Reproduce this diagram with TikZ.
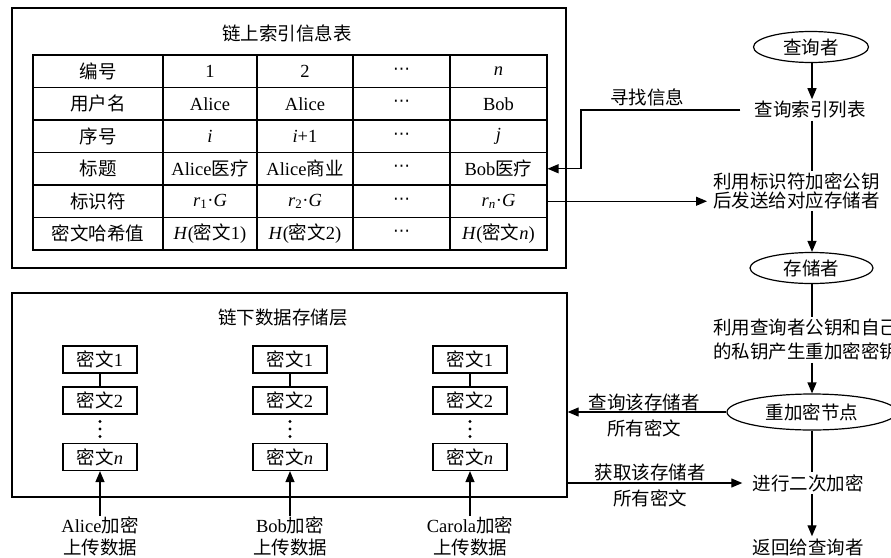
\documentclass[tikz,border=0pt]{standalone}
\usepackage{fontspec}
\setmainfont{Liberation Serif}
\newfontfamily\cjk{Noto Sans CJK SC}
\newfontfamily\dvs{DejaVu Sans}
\usetikzlibrary{shapes.geometric,arrows.meta}
\newcommand\zh[1]{{\cjk #1}}
\tikzset{
  base/.style={font=\fontsize{18.5}{22}\selectfont, inner sep=2pt, align=center},
  cell/.style={base, draw, line width=1.1pt, minimum height=32.5pt, inner sep=0pt},
  frame/.style={draw, line width=1.3pt, inner sep=0pt},
  oval/.style={base, ellipse, draw, line width=1.2pt, inner sep=0pt},
  sbox/.style={base, draw, line width=1.2pt, minimum width=74pt, minimum height=27pt, inner sep=0pt},
  ln/.style={line width=1.2pt},
  arr/.style={ln, -{Triangle[length=11pt,width=9pt]}},
  dot/.style={fill=black},
}
\begin{document}
\begin{tikzpicture}[x=1pt,y=-1pt]
\useasboundingbox (0,0) rectangle (891,557);
\clip (0,0) rectangle (891,557);
% frames
\node[frame, minimum width=554pt, minimum height=260pt] (tb) at (289,138) {};
\node[base] (tt) at (287,33) {\zh{链上索引信息表}};
\node[frame, minimum width=555pt, minimum height=204pt] (bb) at (289.5,395) {};
\node[base] (bt) at (283,318) {\zh{链下数据存储层}};
% table
\foreach \r/\y/\ta/\tb/\tc/\te in {
 1/71.25/{\zh{编号}}/{1}/{2}/{\textit{n}},
 2/103.75/{\zh{用户名}}/{Alice}/{Alice}/{Bob},
 3/136.25/{\zh{序号}}/{\textit{i}}/{\textit{i}+1}/{\textit{j}},
 4/168.75/{\zh{标题}}/{Alice\zh{医疗}}/{Alice\zh{商业}}/{Bob\zh{医疗}},
 5/201.25/{\zh{标识符}}/{\textit{r}\textsubscript{1}·\textit{G}}/{\textit{r}\textsubscript{2}·\textit{G}}/{\textit{r}\textsubscript{\textit{n}}·\textit{G}},
 6/233.75/{\zh{密文哈希值}}/{\textit{H}(\zh{密文}1)}/{\textit{H}(\zh{密文}2)}/{\textit{H}(\zh{密文}\textit{n})}}{
 \node[cell, minimum width=130pt] (c\r1) at (98,\y) {\ta};
 \node[cell, minimum width=94pt] (c\r2) at (210,\y) {\tb};
 \node[cell, minimum width=96pt] (c\r3) at (305,\y) {\tc};
 \node[cell, minimum width=97pt] (c\r4) at (401.5,\y) {\raisebox{-3pt}{\dvs\fontsize{17}{20}\selectfont ⋯}};
 \node[cell, minimum width=97pt] (c\r5) at (498.5,\y) {\te};
}
% stacks
\foreach \k/\x/\lab in {a/100/Alice, b/290/Bob, c/470/Carola}{
  \node[sbox] (\k1) at (\x,359.5) {\zh{密文}1};
  \node[sbox] (\k2) at (\x,400.5) {\zh{密文}2};
  \node[sbox] (\k4) at (\x,457) {\zh{密文}\textit{n}};
  \fill[dot] (\x,421.5) circle (1.7pt) (\x,429) circle (1.7pt) (\x,436.5) circle (1.7pt);
  \node[base, inner sep=0pt] (\k5) at (\x,536) {\lab\zh{加密}\\\zh{上传数据}};
  \draw[ln] (\k1) -- (\k2);
  \draw[arr] (\k5.north) -- (\k4.south);
}
% right column
\coordinate (col) at (812,0);
\node[oval, minimum width=115pt, minimum height=31pt] (qz) at (811,47) {\zh{查询者}};
\node[base] (q2) at (810,110) {\zh{查询索引列表}};
\node[base, anchor=west, font=\fontsize{18.5}{18.5}\selectfont] (t1) at (711,191) {\zh{利用标识符加密公钥}\\\zh{后发送给对应存储者}};
\node[oval, minimum width=123pt, minimum height=31pt] (cz) at (811.5,268) {\zh{存储者}};
\node[base, anchor=west, font=\fontsize{18.5}{24}\selectfont] (t2) at (711,340) {\zh{利用查询者公钥和自己}\\\zh{的私钥产生重加密密钥}};
\node[oval, minimum width=170pt, minimum height=36pt] (rz) at (812,412) {\zh{重加密节点}};
\node[base] (p2) at (808,483) {\zh{进行二次加密}};
\node[base] (ret) at (808,547) {\zh{返回给查询者}};
\draw[arr] (qz.south -| col) -- (q2.north -| col);
\draw[ln] (q2.south -| col) -- (t1.north -| col);
\draw[arr] (t1.south -| col) -- (cz.north -| col);
\draw[ln] (cz.south -| col) -- (t2.north -| col);
\draw[arr] (t2.south -| col) -- (rz.north -| col);
\draw[ln] (rz.south -| col) -- (p2.north -| col);
\draw[arr] (p2.south -| col) -- (ret.north -| col);
% horizontal connectors
\coordinate (bend) at (581,140);
\draw[arr] ([xshift=-12pt]q2.west) -| (bend) |- (c45.east);
\node[base] (find) at (647,97) {\zh{寻找信息}};
\draw[arr, shorten >=4pt] (c55.east) -- (c55.east -| t1.west);
\draw[arr] (rz.west) -- (rz.west -| bb.east);
\node[base, font=\fontsize{18.5}{26}\selectfont] (lq) at (644,415) {\zh{查询该存储者}\\\zh{所有密文}};
\draw[arr] (p2.west -| bb.east) -- ([xshift=-8pt]p2.west);
\node[base, font=\fontsize{18.5}{26}\selectfont] (lg) at (650,485) {\zh{获取该存储者}\\\zh{所有密文}};
\end{tikzpicture}
\end{document}
